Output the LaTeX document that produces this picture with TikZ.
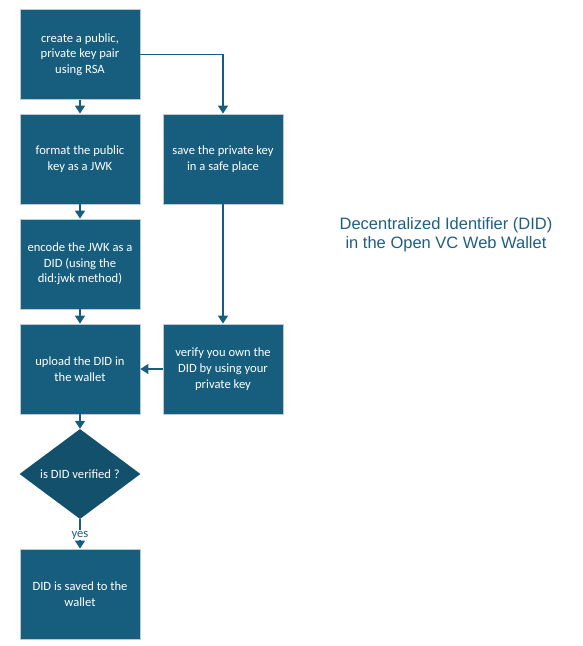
\documentclass[tikz,border=0pt]{standalone}
\usepackage{fontspec}
\setmainfont{Carlito}
\newfontfamily\titlefont{Liberation Sans}
\usetikzlibrary{shapes.geometric, arrows.meta}
\definecolor{didblue}{RGB}{23,94,126}
\definecolor{diddark}{RGB}{19,80,107}
\definecolor{didedge}{RGB}{190,200,206}
\definecolor{didtitle}{RGB}{31,94,130}
\begin{document}
\begin{tikzpicture}[x = 1pt, y = -1pt,
	box/.style = {draw = didedge, line width = 0.8pt, fill = didblue, text = white, minimum width = 120pt, minimum height = 90pt, align = center, inner sep = 2pt, font = \fontsize{12.6}{15.7}\selectfont},
	decide/.style = {diamond, fill = diddark, text = white, minimum width = 121pt, minimum height = 90pt, inner sep = 0pt, font = \fontsize{12.6}{15.7}\selectfont},
	flow/.style = {draw = didblue, line width = 1.5pt, -{Triangle[width = 10pt, length = 8pt]}}]
							\useasboundingbox (0, 0) rectangle (582, 646);
							\node[box] (create) at (80, 54.5) {create a public,\\private key pair\\using RSA};
							\node[box] (format) at (80, 159) {format the public\\key as a JWK};
							\node[box] (encode) at (80, 264) {encode the JWK as a\\DID (using the\\did:jwk method)};
							\node[box] (upload) at (80, 369) {upload the DID in\\the wallet};
							\node[decide] (verified) at (80, 474) {is DID verified ?};
							\node[box] (saved) at (80, 594) {DID is saved to the\\wallet};
							\node[box] (save) at (223, 159) {save the private key\\in a safe place};
							\node[box] (verify) at (223, 369) {verify you own the\\DID by using your\\private key};
							\node[text = didtitle, align = center, font = \titlefont\fontsize{16.5}{19}\selectfont] (title) at (446, 235) {Decentralized Identifier (DID)\\in the Open VC Web Wallet};
							\draw[flow] (create) -- (format);
							\draw[flow] (format) -- (encode);
							\draw[flow] (encode) -- (upload);
							\draw[flow] (upload) -- (verified);
							\draw[flow] (verified) -- node[pos = 0.55, fill = white, text = didtitle, inner sep = 1pt, font = \fontsize{12.6}{15.7}\selectfont] {yes} (saved);
							\draw[flow] (create.east) -| (save.north);
							\draw[flow] (save) -- (verify);
							\draw[flow] (verify) -- (upload);
\end{tikzpicture}
\end{document}
